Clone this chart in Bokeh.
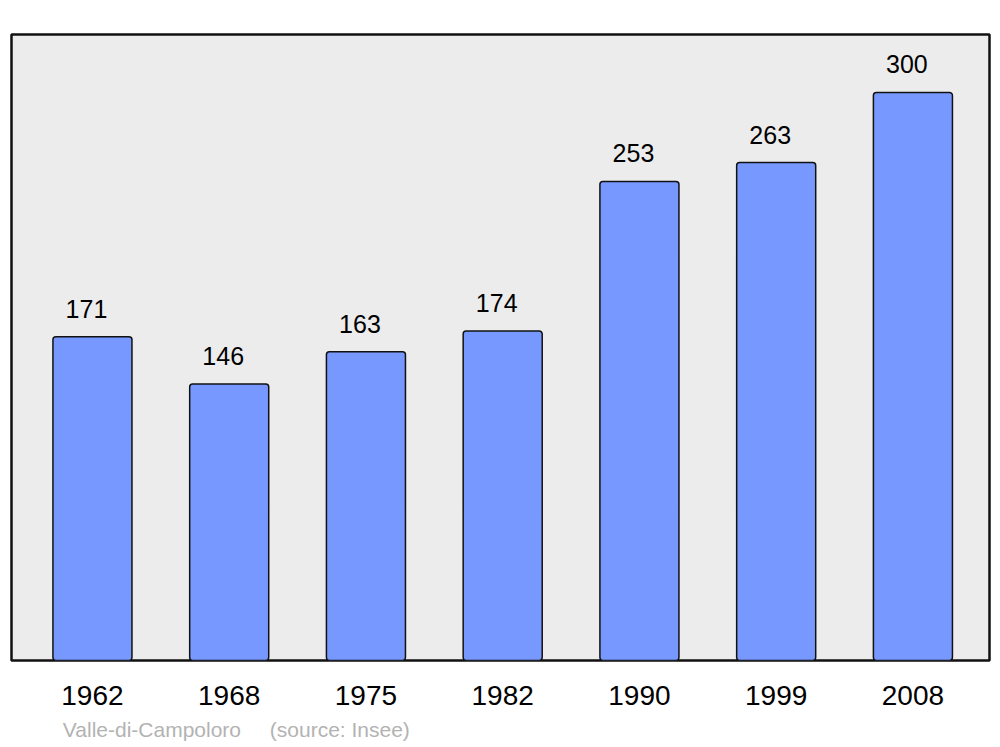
from bokeh.plotting import figure
from bokeh.models import Range1d, FixedTicker, LinearAxis, ColumnDataSource
from bokeh.core.properties import value
from bokeh.embed import file_html
from bokeh.resources import INLINE

years = ["1962", "1968", "1975", "1982", "1990", "1999", "2008"]
population = [171, 146, 163, 174, 253, 263, 300]
town = "Valle-di-Campoloro"
source = "(source: Insee)"

xs = list(range(len(years)))
src = ColumnDataSource(dict(x=xs, top=population, lbl=[str(v) for v in population]))

p = figure(width=1000, height=747, output_backend="svg", toolbar_location=None,
           x_range=Range1d(-0.592, 6.56), y_range=Range1d(0, 330.6),
           min_border_left=11, min_border_right=11, min_border_top=34, min_border_bottom=87)
p.background_fill_color = "#ececec"
p.border_fill_color = "white"
p.outline_line_color = "#111111"
p.outline_line_width = 2.5
p.xgrid.visible = False
p.ygrid.visible = False
p.yaxis.visible = False

p.vbar(x="x", top="top", width=0.578, bottom=0, source=src,
       fill_color="#7799ff", line_color="#111111", line_width=1.5, border_radius=3)

p.text(x="x", y="top", text="lbl", source=src, text_align="center", text_baseline="middle",
       y_offset=-28, x_offset=-6, text_font=value("Liberation Sans"), text_font_size="25px",
       text_color="black")

ax = p.xaxis[0]
ax.ticker = FixedTicker(ticks=xs)
ax.major_label_overrides = {i: y for i, y in zip(xs, years)}
ax.axis_line_color = None
ax.major_tick_line_color = None
ax.minor_tick_line_color = None
ax.major_tick_out = 0
ax.major_tick_in = 0
ax.major_label_standoff = 25
ax.major_label_text_font = "Liberation Sans"
ax.major_label_text_font_size = "28px"
ax.major_label_text_color = "black"

src_pos = [0.435, 1.809]
ax2 = LinearAxis(ticker=FixedTicker(ticks=src_pos),
                 major_label_overrides={src_pos[0]: town, src_pos[1]: source})
ax2.axis_line_color = None
ax2.major_tick_line_color = None
ax2.minor_tick_line_color = None
ax2.major_tick_out = 0
ax2.major_tick_in = 0
ax2.major_label_standoff = 10
ax2.major_label_text_font = "Liberation Sans"
ax2.major_label_text_font_size = "21px"
ax2.major_label_text_color = "#b3b3b3"
p.add_layout(ax2, "below")

open("out.html", "w").write(file_html(p, INLINE))
